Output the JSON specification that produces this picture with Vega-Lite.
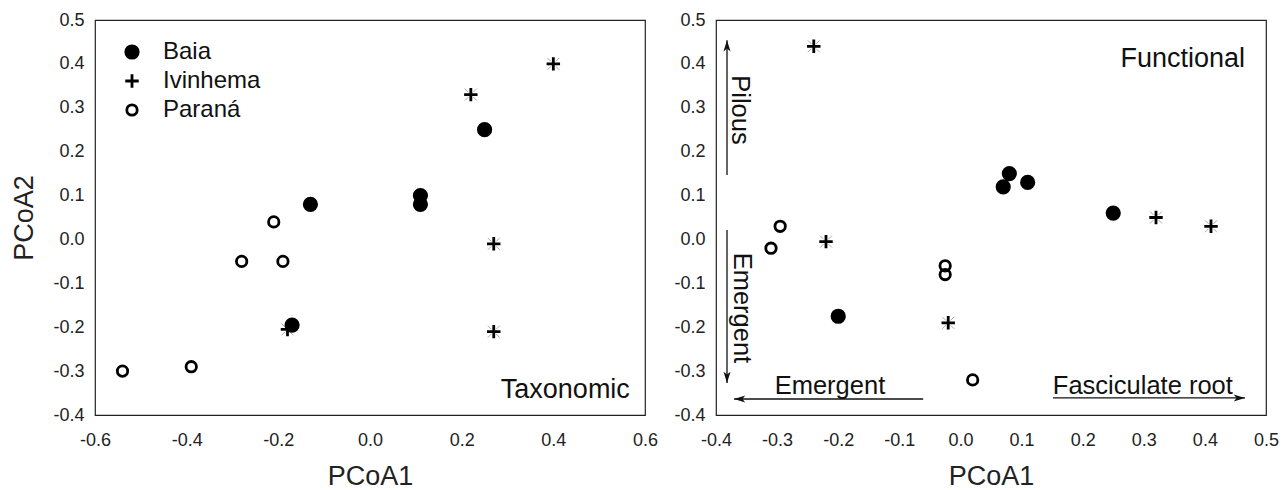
{
  "$schema": "https://vega.github.io/schema/vega-lite/v6.json",
  "padding": {"left": 10, "top": 10, "right": 0, "bottom": 0},
  "background": "white",
  "config": {
    "font": "Liberation Sans",
    "view": {"stroke": "#222", "strokeWidth": 1.2},
    "axis": {"domain": false, "ticks": false, "grid": false, "labelFlush": false, "labelFontSize": 18, "labelColor": "#222", "titleFontSize": 27, "titleFontWeight": "normal", "titleColor": "#222"},
    "concat": {"spacing": 14}
  },
  "datasets": {
    "tax": [
      {"site": "Baia", "pc1": 0.25, "pc2": 0.25},
      {"site": "Baia", "pc1": 0.11, "pc2": 0.10},
      {"site": "Baia", "pc1": 0.11, "pc2": 0.08},
      {"site": "Baia", "pc1": -0.13, "pc2": 0.08},
      {"site": "Baia", "pc1": -0.17, "pc2": -0.195},
      {"site": "Ivinhema", "pc1": 0.40, "pc2": 0.40},
      {"site": "Ivinhema", "pc1": 0.22, "pc2": 0.33},
      {"site": "Ivinhema", "pc1": 0.27, "pc2": -0.01},
      {"site": "Ivinhema", "pc1": 0.27, "pc2": -0.21},
      {"site": "Ivinhema", "pc1": -0.18, "pc2": -0.205},
      {"site": "Paraná", "pc1": -0.21, "pc2": 0.04},
      {"site": "Paraná", "pc1": -0.28, "pc2": -0.05},
      {"site": "Paraná", "pc1": -0.19, "pc2": -0.05},
      {"site": "Paraná", "pc1": -0.54, "pc2": -0.30},
      {"site": "Paraná", "pc1": -0.39, "pc2": -0.29}
    ],
    "fun": [
      {"site": "Baia", "pc1": 0.08, "pc2": 0.15},
      {"site": "Baia", "pc1": 0.07, "pc2": 0.12},
      {"site": "Baia", "pc1": 0.11, "pc2": 0.13},
      {"site": "Baia", "pc1": 0.25, "pc2": 0.06},
      {"site": "Baia", "pc1": -0.20, "pc2": -0.175},
      {"site": "Ivinhema", "pc1": -0.24, "pc2": 0.44},
      {"site": "Ivinhema", "pc1": -0.22, "pc2": -0.005},
      {"site": "Ivinhema", "pc1": 0.32, "pc2": 0.05},
      {"site": "Ivinhema", "pc1": 0.41, "pc2": 0.03},
      {"site": "Ivinhema", "pc1": -0.02, "pc2": -0.19},
      {"site": "Paraná", "pc1": -0.295, "pc2": 0.03},
      {"site": "Paraná", "pc1": -0.31, "pc2": -0.02},
      {"site": "Paraná", "pc1": -0.025, "pc2": -0.06},
      {"site": "Paraná", "pc1": -0.025, "pc2": -0.08},
      {"site": "Paraná", "pc1": 0.02, "pc2": -0.32}
    ],
    "arrows": [
      {"dir": "up", "xs": -0.382, "ys": 0.147, "xe": -0.382, "ye": 0.454},
      {"dir": "down", "xs": -0.382, "ys": 0.0215, "xe": -0.382, "ye": -0.327},
      {"dir": "left", "xs": -0.061, "ys": -0.3635, "xe": -0.3705, "ye": -0.3635},
      {"dir": "right", "xs": 0.1515, "ys": -0.361, "xe": 0.4656, "ye": -0.361}
    ]
  },
  "hconcat": [
    {
      "width": 550,
      "height": 395,
      "layer": [
        {
          "data": {"name": "tax"},
          "transform": [{"filter": "datum.site === 'Ivinhema'"}],
          "mark": {"type": "point", "shape": "M-0.85,-0.85L-0.35,-0.35M0.85,0.85L0.35,0.35M-0.85,0.85L-0.35,0.35M0.85,-0.85L0.35,-0.35", "stroke": "#aaa", "strokeWidth": 1, "size": 196, "opacity": 1},
          "encoding": {"x": {"field": "pc1", "type": "quantitative"}, "y": {"field": "pc2", "type": "quantitative"}}
        },
        {
          "data": {"name": "tax"},
          "mark": {"type": "point", "stroke": "black", "strokeWidth": 2.8, "size": 196, "opacity": 1, "strokeOpacity": 1, "fillOpacity": 1},
          "encoding": {
            "x": {"field": "pc1", "type": "quantitative", "scale": {"domain": [-0.6, 0.6], "nice": false, "zero": false},
                  "axis": {"values": [-0.6, -0.4, -0.2, 0, 0.2, 0.4, 0.6], "format": ".1f", "labelExpr": "replace(datum.label, '\u2212', '-')", "title": "PCoA1", "labelPadding": 16, "titlePadding": 14}},
            "y": {"field": "pc2", "type": "quantitative", "scale": {"domain": [-0.4, 0.5], "nice": false, "zero": false},
                  "axis": {"values": [-0.4, -0.3, -0.2, -0.1, 0, 0.1, 0.2, 0.3, 0.4, 0.5], "format": ".1f", "labelExpr": "replace(datum.label, '\u2212', '-')", "title": "PCoA2", "labelPadding": 11, "titlePadding": 14}},
            "shape": {"field": "site", "type": "nominal",
                      "scale": {"domain": ["Baia", "Ivinhema", "Paraná"], "range": ["M0.886,0A0.886,0.886 0 1,1 -0.886,0A0.886,0.886 0 1,1 0.886,0Z", "M-0.96,0L0.96,0M0,-0.96L0,0.96", "M0.743,0A0.743,0.743 0 1,1 -0.743,0A0.743,0.743 0 1,1 0.743,0Z"]},
                      "legend": {"title": null, "orient": "none", "legendX": 25, "legendY": 20, "padding": 0, "labelFontSize": 24, "labelColor": "#111", "labelOffset": 19, "rowPadding": 4, "symbolSize": 196, "symbolStrokeWidth": 2.8, "symbolStrokeColor": "black", "symbolOpacity": 1,
                                 "encode": {"symbols": {"update": {"stroke": {"value": "black"}, "strokeWidth": {"value": 2.8}, "opacity": {"value": 1}}}}}},
            "fill": {"field": "site", "type": "nominal",
                     "scale": {"domain": ["Baia", "Ivinhema", "Paraná"], "range": ["black", "black", "transparent"]},
                     "legend": {"title": null, "orient": "none", "legendX": 25, "legendY": 20, "padding": 0, "labelFontSize": 24, "labelColor": "#111", "labelOffset": 19, "rowPadding": 4, "symbolSize": 196, "symbolStrokeWidth": 2.8, "symbolStrokeColor": "black", "symbolOpacity": 1,
                                "encode": {"symbols": {"update": {"stroke": {"value": "black"}, "strokeWidth": {"value": 2.8}, "opacity": {"value": 1}}}}}}
          }
        },
        {
          "data": {"values": [{"label": "Taxonomic", "pc1": 0.567, "pc2": -0.361}]},
          "mark": {"type": "text", "align": "right", "baseline": "alphabetic", "fontSize": 27, "color": "#111"},
          "encoding": {
            "x": {"field": "pc1", "type": "quantitative"},
            "y": {"field": "pc2", "type": "quantitative"},
            "text": {"field": "label"}
          }
        }
      ]
    },
    {
      "width": 550,
      "height": 395,
      "layer": [
        {
          "data": {"name": "fun"},
          "transform": [{"filter": "datum.site === 'Ivinhema'"}],
          "mark": {"type": "point", "shape": "M-0.85,-0.85L-0.35,-0.35M0.85,0.85L0.35,0.35M-0.85,0.85L-0.35,0.35M0.85,-0.85L0.35,-0.35", "stroke": "#aaa", "strokeWidth": 1, "size": 196, "opacity": 1},
          "encoding": {"x": {"field": "pc1", "type": "quantitative"}, "y": {"field": "pc2", "type": "quantitative"}}
        },
        {
          "data": {"name": "fun"},
          "mark": {"type": "point", "stroke": "black", "strokeWidth": 2.8, "size": 196, "opacity": 1, "strokeOpacity": 1, "fillOpacity": 1},
          "encoding": {
            "x": {"field": "pc1", "type": "quantitative", "scale": {"domain": [-0.4, 0.5], "nice": false, "zero": false},
                  "axis": {"values": [-0.4, -0.3, -0.2, -0.1, 0, 0.1, 0.2, 0.3, 0.4, 0.5], "format": ".1f", "labelExpr": "replace(datum.label, '\u2212', '-')", "title": "PCoA1", "labelPadding": 16, "titlePadding": 14}},
            "y": {"field": "pc2", "type": "quantitative", "scale": {"domain": [-0.4, 0.5], "nice": false, "zero": false},
                  "axis": {"values": [-0.4, -0.3, -0.2, -0.1, 0, 0.1, 0.2, 0.3, 0.4, 0.5], "format": ".1f", "labelExpr": "replace(datum.label, '\u2212', '-')", "title": null, "labelPadding": 11}},
            "shape": {"field": "site", "type": "nominal",
                      "scale": {"domain": ["Baia", "Ivinhema", "Paraná"], "range": ["M0.886,0A0.886,0.886 0 1,1 -0.886,0A0.886,0.886 0 1,1 0.886,0Z", "M-0.96,0L0.96,0M0,-0.96L0,0.96", "M0.743,0A0.743,0.743 0 1,1 -0.743,0A0.743,0.743 0 1,1 0.743,0Z"]},
                      "legend": null},
            "fill": {"field": "site", "type": "nominal",
                     "scale": {"domain": ["Baia", "Ivinhema", "Paraná"], "range": ["black", "black", "transparent"]},
                     "legend": null}
          }
        },
        {
          "data": {"name": "arrows"},
          "mark": {"type": "rule", "color": "#111", "strokeWidth": 1.3},
          "encoding": {
            "x": {"field": "xs", "type": "quantitative"},
            "y": {"field": "ys", "type": "quantitative"},
            "x2": {"field": "xe"},
            "y2": {"field": "ye"}
          }
        },
        {
          "data": {"name": "arrows"},
          "transform": [{"filter": "datum.dir === 'up'"}],
          "mark": {"type": "point", "shape": "M0,0L0.5,1.6L0,1.2L-0.5,1.6Z", "filled": true, "color": "#111", "size": 196, "opacity": 1},
          "encoding": {"x": {"field": "xe", "type": "quantitative"}, "y": {"field": "ye", "type": "quantitative"}}
        },
        {
          "data": {"name": "arrows"},
          "transform": [{"filter": "datum.dir === 'down'"}],
          "mark": {"type": "point", "shape": "M0,0L0.5,-1.6L0,-1.2L-0.5,-1.6Z", "filled": true, "color": "#111", "size": 196, "opacity": 1},
          "encoding": {"x": {"field": "xe", "type": "quantitative"}, "y": {"field": "ye", "type": "quantitative"}}
        },
        {
          "data": {"name": "arrows"},
          "transform": [{"filter": "datum.dir === 'left'"}],
          "mark": {"type": "point", "shape": "M0,0L1.6,0.5L1.2,0L1.6,-0.5Z", "filled": true, "color": "#111", "size": 196, "opacity": 1},
          "encoding": {"x": {"field": "xe", "type": "quantitative"}, "y": {"field": "ye", "type": "quantitative"}}
        },
        {
          "data": {"name": "arrows"},
          "transform": [{"filter": "datum.dir === 'right'"}],
          "mark": {"type": "point", "shape": "M0,0L-1.6,0.5L-1.2,0L-1.6,-0.5Z", "filled": true, "color": "#111", "size": 196, "opacity": 1},
          "encoding": {"x": {"field": "xe", "type": "quantitative"}, "y": {"field": "ye", "type": "quantitative"}}
        },
        {
          "data": {"values": [{"label": "Functional", "pc1": 0.4656, "pc2": 0.393}]},
          "mark": {"type": "text", "align": "right", "baseline": "alphabetic", "fontSize": 27, "color": "#111"},
          "encoding": {
            "x": {"field": "pc1", "type": "quantitative"},
            "y": {"field": "pc2", "type": "quantitative"},
            "text": {"field": "label"}
          }
        },
        {
          "data": {"values": [{"label": "Emergent", "pc1": -0.2135, "pc2": -0.352}, {"label": "Fasciculate root", "pc1": 0.2985, "pc2": -0.352}]},
          "mark": {"type": "text", "align": "center", "baseline": "alphabetic", "fontSize": 25.5, "color": "#111"},
          "encoding": {
            "x": {"field": "pc1", "type": "quantitative"},
            "y": {"field": "pc2", "type": "quantitative"},
            "text": {"field": "label"}
          }
        },
        {
          "data": {"values": [{"label": "Pilous", "pc1": -0.36, "pc2": 0.295}, {"label": "Emergent", "pc1": -0.357, "pc2": -0.156}]},
          "mark": {"type": "text", "align": "center", "baseline": "middle", "angle": 90, "fontSize": 25.5, "color": "#111"},
          "encoding": {
            "x": {"field": "pc1", "type": "quantitative"},
            "y": {"field": "pc2", "type": "quantitative"},
            "text": {"field": "label"}
          }
        }
      ]
    }
  ]
}
